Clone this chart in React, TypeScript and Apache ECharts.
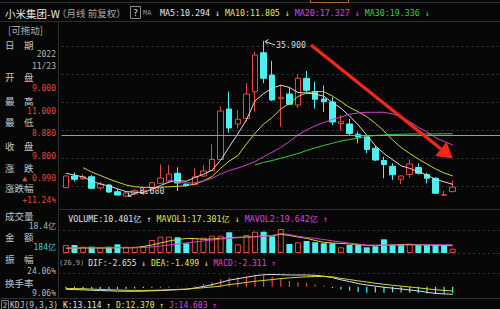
import { useEffect, useRef } from "react";
import * as echarts from "echarts";

// ---------- data (monthly, 前复权) ----------
const months = [
  "2019-02","2019-03","2019-04","2019-05","2019-06","2019-07","2019-08","2019-09","2019-10","2019-11","2019-12",
  "2020-01","2020-02","2020-03","2020-04","2020-05","2020-06","2020-07","2020-08","2020-09","2020-10","2020-11","2020-12",
  "2021-01","2021-02","2021-03","2021-04","2021-05","2021-06","2021-07","2021-08","2021-09","2021-10","2021-11","2021-12",
  "2022-01","2022-02","2022-03","2022-04","2022-05","2022-06","2022-07","2022-08","2022-09","2022-10","2022-11",
];
const opens = [9.70,11.79,11.30,11.66,9.64,10.18,8.98,8.21,8.57,8.66,9.59,10.48,10.89,12.27,10.30,10.27,11.79,12.77,14.73,23.75,21.07,22.05,26.84,33.80,29.82,25.59,26.43,24.46,29.23,26.84,25.54,25.00,21.16,21.07,19.23,18.75,16.73,14.55,13.52,11.20,12.05,13.30,12.05,11.38,8.34,9.00];
const closes = [11.79,11.20,11.66,9.59,10.36,8.93,8.39,8.75,9.16,9.20,10.59,11.43,12.14,10.54,10.13,11.66,12.68,14.73,23.39,20.36,21.91,26.43,33.39,29.23,25.36,25.84,24.59,29.23,27.09,25.48,25.05,21.43,21.48,19.38,18.75,16.52,14.64,13.84,12.02,11.79,13.93,12.27,11.38,8.70,8.43,9.80];
const lows = [9.62,10.77,11.07,9.46,9.29,8.75,8.30,8.08,8.39,8.39,9.46,10.36,10.71,9.11,9.82,10.09,11.61,12.68,14.64,19.52,20.30,21.48,23.27,28.34,25.18,20.59,24.46,23.93,26.55,23.80,23.21,20.89,19.88,19.11,17.63,15.89,14.46,11.38,11.07,10.36,11.43,12.05,10.48,8.57,8.28,8.88];
const highs = [11.90,12.45,12.09,11.96,10.80,10.36,9.46,9.11,9.46,9.29,10.71,13.84,13.75,13.34,10.54,13.16,13.75,17.45,24.20,26.88,23.57,28.39,33.98,35.90,32.32,28.04,27.68,30.00,30.54,28.63,27.95,25.89,22.68,21.96,19.70,19.11,17.14,15.23,14.05,11.88,14.73,14.05,12.38,11.52,9.16,11.00];

const ma5 = [12.27,11.96,11.61,10.89,10.36,10.0,9.5,9.0,8.9,8.85,9.4,10.1,10.7,11.0,10.85,11.5,12.1,12.8,14.6,17.0,19.3,21.8,25.2,26.5,27.45,28.0,27.6,26.7,26.6,26.4,26.05,24.9,23.9,22.5,20.9,19.1,17.2,15.8,14.7,13.6,13.15,12.55,11.95,11.2,10.75,10.294];
const ma10 = [null,null,13.27,12.5,11.88,11.25,10.71,10.18,9.88,9.75,9.75,9.8,9.85,9.95,10.05,10.36,10.89,11.70,13.16,14.46,15.41,17.5,19.41,21.07,22.23,23.75,24.73,25.98,26.61,26.88,26.84,26.07,25.09,24.02,23.27,22.38,21.2,19.82,18.21,16.88,15.80,14.82,13.93,13.04,12.32,11.805];
const ma20 = [null,null,null,null,null,null,null,null,null,null,null,null,11.07,10.71,10.54,10.54,10.89,11.38,12.14,12.77,13.21,13.75,14.34,15.23,16.02,16.88,17.95,19.11,20.0,20.75,21.34,21.88,22.32,22.82,23.04,23.16,23.16,23.16,22.86,22.38,21.48,20.48,19.64,18.66,17.95,17.327];
const ma30 = [null,null,null,null,null,null,null,null,null,null,null,null,null,null,null,null,null,null,null,null,null,null,13.75,14.20,14.55,14.95,15.36,15.80,16.34,16.79,17.23,17.63,18.04,18.30,18.57,18.84,19.02,19.11,19.20,19.25,19.28,19.30,19.28,19.30,19.32,19.336];

// 成交量 (亿股)
const volumes = [19.0,19.0,15.0,15.0,13.6,15.0,20.7,15.0,15.0,16.7,31.0,38.8,38.8,37.4,23.1,35.0,36.4,41.2,41.2,49.3,20.7,42.9,50.7,50.7,39.8,57.1,21.4,25.5,28.6,25.5,23.1,23.1,13.6,19.0,19.0,13.6,16.0,32.6,20.0,19.5,21.8,19.2,19.4,19.8,17.7,10.401];
const mavol1 = [11.2,11.4,11.9,11.9,11.9,11.9,12.4,12.4,12.6,15.5,19.0,23.8,28.6,32.1,34.5,34.5,32.6,33.3,35.0,36.2,37.4,38.1,38.8,40.5,41.2,44.5,41.7,38.1,35.0,29.8,25.5,23.8,22.6,21.4,20.2,17.9,17.4,18.6,19.0,20.2,20.7,19.5,19.0,18.3,17.9,17.301];
const mavol2 = [12.0,12.2,12.4,12.5,12.6,12.6,12.6,12.6,12.6,13.1,14.3,16.7,19.0,21.4,23.8,26.2,28.6,31.0,33.3,35.0,36.2,37.4,38.6,39.8,42.0,46.4,44.0,39.8,36.9,35.0,32.1,29.0,26.2,23.3,21.0,19.0,19.0,19.0,19.0,18.8,19.0,19.2,19.3,19.4,19.5,19.642];

// MACD(12,26,9)
const dif = [-0.9,-1.0,-1.1,-1.25,-1.35,-1.45,-1.55,-1.6,-1.6,-1.55,-1.45,-1.35,-1.2,-1.05,-0.9,-0.45,0.1,0.7,1.5,2.3,2.8,3.3,3.85,4.2,4.3,4.2,4.1,4.1,4.1,4.0,3.7,3.2,2.4,1.8,1.1,0.6,0.2,-0.2,-0.5,-0.8,-1.15,-1.5,-1.95,-2.35,-2.55,-2.655];
const dea = [-0.6,-0.65,-0.7,-0.85,-0.95,-1.05,-1.15,-1.25,-1.3,-1.3,-1.25,-1.2,-1.05,-0.95,-0.85,-0.6,-0.35,-0.1,0.2,0.75,1.1,1.5,1.9,2.2,2.5,2.85,3.1,3.3,3.45,3.6,3.55,3.45,2.9,2.5,2.05,1.65,1.2,0.85,0.5,0.2,-0.1,-0.4,-0.75,-1.05,-1.3,-1.499];
const macd = [-0.6,-0.7,-0.8,-0.8,-0.8,-0.8,-0.8,-0.7,-0.6,-0.5,-0.4,-0.3,-0.3,-0.2,-0.1,0.3,0.9,1.6,2.6,3.1,3.4,3.6,3.9,4.0,3.6,2.7,2.0,1.6,1.3,0.8,0.3,-0.5,-1.0,-1.4,-1.9,-2.1,-2.0,-2.1,-2.0,-2.0,-2.1,-2.2,-2.4,-2.6,-2.5,-2.311];

const guideLevel = 19.1;
const emptySlots = ["e1", "e2", "e3", "e4", "e5"];

// ---------- styles ----------
const BG = "#070707";
const RED = "#e8483e";
const CYAN = "#4cf0f0";
const WHITE = "#dcdcdc";
const YELLOW = "#d4d42c";
const MAGENTA = "#d040d0";
const GREEN = "#3cc83c";
const GRAYTXT = "#b4b4b4";
const MONO = "'DejaVu Sans Mono', 'Noto Sans CJK SC', monospace";
const CJK = "'Noto Sans CJK SC', sans-serif";

const gridPos = { left: 61.6, right: -2.75 };

function line(x1: number, y1: number, x2: number, y2: number, stroke: string, dash?: number[], z = 1) {
  return { type: "line", silent: true, z, shape: { x1, y1, x2, y2 }, style: { stroke, lineWidth: 1, lineDash: dash } };
}
function txt(x: number, y: number, text: string, fill: string, size: number, family: string, align = "left", z = 12) {
  return { type: "text", silent: true, z, x, y, style: { text, fill, fontSize: size, fontFamily: family, align, verticalAlign: "middle" } };
}
function rich(x: number, y: number, text: string, colors: Record<string, string>, size: number, z = 5) {
  const r: Record<string, any> = {};
  Object.keys(colors).forEach((k) => { r[k] = { fill: colors[k], fontSize: size, fontFamily: MONO }; });
  return { type: "text", silent: true, z, x, y, style: { text, rich: r, fill: GRAYTXT, fontSize: size, fontFamily: MONO, verticalAlign: "middle" } };
}

export default function App() {
  const ref = useRef<HTMLDivElement | null>(null);

  useEffect(() => {
    document.body.style.margin = "0";
    document.body.style.background = BG;
    const chart = echarts.init(ref.current as HTMLDivElement, null, { renderer: "svg" });
    const cats = [...months, ...emptySlots];

    const candleData = months.map((_, i) => [opens[i], closes[i], lows[i], highs[i]]);
    const volData = volumes.map((v, i) => {
      const up = i === 0 ? closes[i] >= opens[i] : closes[i] >= closes[i - 1];
      return { value: v, itemStyle: up ? { color: BG, borderColor: RED, borderWidth: 1 } : { color: CYAN } };
    });
    const macdData = macd.map((v) => ({ value: v, itemStyle: { color: v >= 0 ? RED : CYAN } }));

    const maLine = (data: (number | null)[], color: string, xi: number) => ({
      type: "line", xAxisIndex: xi, yAxisIndex: xi, data, symbol: "none", silent: true,
      lineStyle: { color, width: 1 }, z: 3,
    });

    chart.setOption({
      animation: false,
      backgroundColor: BG,
      grid: [
        { ...gridPos, top: 18, height: 196 },
        { ...gridPos, top: 225, height: 28 },
        { ...gridPos, top: 266, height: 32 },
      ],
      xAxis: [0, 1, 2].map((g) => ({ type: "category", gridIndex: g, data: cats, boundaryGap: true, show: false })),
      yAxis: [
        {
          gridIndex: 0, min: 5, max: 40, interval: 5,
          axisLine: { show: false }, axisTick: { show: false }, axisLabel: { show: false },
          splitLine: { show: true, showMinLine: false, showMaxLine: false, lineStyle: { color: "#3a3a3a", type: [2, 3], width: 1 } },
        },
        { gridIndex: 1, min: 0, max: 66.67, show: false, splitLine: { show: false } },
        { gridIndex: 2, min: -3.965, max: 7.263, show: false, splitLine: { show: false } },
      ],
      series: [
        {
          type: "candlestick", xAxisIndex: 0, yAxisIndex: 0, data: candleData, barWidth: 6, silent: true,
          itemStyle: { color: BG, color0: CYAN, borderColor: RED, borderColor0: CYAN, borderWidth: 1 },
          markLine: {
            silent: true, symbol: "none", label: { show: false },
            lineStyle: { color: "#9c9c9c", width: 1, type: "solid" },
            data: [{ yAxis: guideLevel }],
          },
        },
        maLine(ma5, WHITE, 0),
        maLine(ma10, YELLOW, 0),
        maLine(ma20, MAGENTA, 0),
        maLine(ma30, GREEN, 0),
        { type: "bar", xAxisIndex: 1, yAxisIndex: 1, data: volData, barWidth: 6, silent: true },
        maLine(mavol1, YELLOW, 1),
        maLine(mavol2, MAGENTA, 1),
        { type: "bar", xAxisIndex: 2, yAxisIndex: 2, data: macdData, barWidth: 1.2, silent: true },
        maLine(dif, WHITE, 2),
        maLine(dea, YELLOW, 2),
      ],
    });

    // high / low markers from the scales
    const hiIdx = highs.indexOf(Math.max(...highs));
    const loIdx = lows.indexOf(Math.min(...lows));
    const [hx, hy] = chart.convertToPixel({ gridIndex: 0 } as any, [hiIdx, highs[hiIdx]]) as number[];
    const [lx, ly] = chart.convertToPixel({ gridIndex: 0 } as any, [loIdx, lows[loIdx]]) as number[];

    const markers = [
      line(hx + 11.5, hy + 4, hx + 1.5, hy + 0.5, "#d8d8d8", undefined, 20),
      { type: "polyline", silent: true, z: 20, shape: { points: [[hx + 5, hy - 1.5], [hx + 1.5, hy + 0.5], [hx + 4, hy + 3.5]] }, style: { stroke: "#d8d8d8", fill: null, lineWidth: 1 } },
      txt(hx + 12.5, hy + 4.5, highs[hiIdx].toFixed(3), "#d8d8d8", 8.3, MONO, "left", 20),
      line(lx + 11.5, ly - 4.5, lx + 2, ly - 0.5, "#d8d8d8", undefined, 20),
      { type: "polyline", silent: true, z: 20, shape: { points: [[lx + 3, ly - 4], [lx + 2, ly - 0.5], [lx + 5.5, ly - 0.5]] }, style: { stroke: "#d8d8d8", fill: null, lineWidth: 1 } },
      txt(lx + 13.5, ly - 6, lows[loIdx].toFixed(3), "#d8d8d8", 8.3, MONO, "left", 20),
    ];

    // drawn annotation arrow
    const shaft: any = line(311, 45, 441, 149, "#f02818", undefined, 21);
    shaft.style.lineWidth = 3.4;
    const arrow = [
      shaft,
      { type: "polygon", silent: true, z: 21, shape: { points: [[452.7, 158.6], [435.2, 156.1], [446.6, 141.8]] }, style: { fill: "#f02818" } },
    ];

    const frame = [
      line(0, 2.5, 500, 2.5, "#2e2e2e"),
      { type: "rect", silent: true, z: 2, shape: { x: 310.5, y: -1, width: 38, height: 3.5 }, style: { fill: null, stroke: "#b06a30", lineWidth: 1 } },
      line(0, 21.5, 500, 21.5, "#2e2e2e"),
      line(58, 209.5, 500, 209.5, "#2e2e2e"),
      line(58, 230.5, 500, 230.5, "#333333", [2, 3]),
      line(58, 253.5, 500, 253.5, "#333333", [2, 3]),
      line(58, 273.5, 500, 273.5, "#333333", [2, 3]),
      line(0, 298.5, 500, 298.5, "#2e2e2e"),
    ];

    const titleRow = [
      txt(5, 13, "小米集团-W", "#e6e6e6", 10.5, CJK),
      txt(57, 13, "（月线 前复权）", "#a8a8a8", 9.5, CJK),
      { type: "rect", silent: true, z: 5, shape: { x: 130.5, y: 6.5, width: 10, height: 12 }, style: { fill: null, stroke: "#8a8a8a", lineWidth: 1 } },
      txt(135.5, 13, "?", "#d8d8d8", 9, MONO, "center"),
      txt(143, 13, "MA", "#909090", 7, MONO),
      rich(160, 13, "{w|MA5:10.294 ↓} {y|MA10:11.805 ↓} {m|MA20:17.327 ↓} {g|MA30:19.336 ↓}",
        { w: "#e4e4e4", y: "#e6e640", m: "#e040e0", g: "#40d040" }, 8.3),
    ];

    const paneRows = [
      rich(68.3, 219, "{w|VOLUME:10.401亿 ↑} {y|MAVOL1:17.301亿 ↓} {m|MAVOL2:19.642亿 ↑}",
        { w: "#e0e0e0", y: "#e6e640", m: "#e040e0" }, 8.3),
      txt(59, 263, "(26,9)", "#a0a0a0", 7, MONO, "left", 5),
      rich(88.3, 263, "{w|DIF:-2.655 ↓} {y|DEA:-1.499 ↓} {m|MACD:-2.311 ↑}",
        { w: "#e0e0e0", y: "#e6e640", m: "#e040e0" }, 8),
      { type: "rect", silent: true, z: 5, shape: { x: 1.5, y: 300.5, width: 7, height: 9 }, style: { fill: null, stroke: "#808080", lineWidth: 1 } },
      txt(5, 305, "2", "#c8c8c8", 7.5, MONO, "center", 6),
      rich(10, 305, "{g|KDJ(9,3,3)} {w|K:13.114 ↑} {y|D:12.370 ↑} {m|J:14.603 ↑}",
        { g: "#c0c0c0", w: "#e0e0e0", y: "#e6e640", m: "#e040e0" }, 8),
    ];

    const LBL = "#c4c4c4";
    const LS = 9.5;
    const panel = [
      { type: "rect", silent: true, z: 10, shape: { x: 0, y: 22, width: 58, height: 276 }, style: { fill: BG } },
      line(58.5, 22, 58.5, 298, "#2e2e2e", undefined, 11),
      txt(8, 30, "[可拖动]", "#b0b0b0", LS, CJK),
      txt(5, 44.5, "日　期", LBL, LS, CJK),
      txt(56, 54, "2022", GRAYTXT, 8, MONO, "right"),
      txt(56, 66, "11/23", GRAYTXT, 8, MONO, "right"),
      txt(5, 77, "开　盘", LBL, LS, CJK),
      txt(56, 88, "9.000", RED, 8, MONO, "right"),
      txt(5, 100.5, "最　高", LBL, LS, CJK),
      txt(56, 111, "11.000", RED, 8, MONO, "right"),
      txt(5, 122, "最　低", LBL, LS, CJK),
      txt(56, 133, "8.880", RED, 8, MONO, "right"),
      txt(5, 146, "收　盘", LBL, LS, CJK),
      txt(56, 156.5, "9.800", RED, 8, MONO, "right"),
      txt(5, 168, "涨　跌", LBL, LS, CJK),
      txt(56, 178.5, "▲ 0.990", RED, 8, MONO, "right"),
      txt(5, 188, "涨跌幅", LBL, LS, CJK),
      txt(56, 200, "+11.24%", RED, 8, MONO, "right"),
      txt(5, 215.5, "成交量", LBL, LS, CJK),
      txt(56, 226, "18.4亿", GRAYTXT, 8, MONO, "right"),
      txt(5, 236.7, "金　额", LBL, LS, CJK),
      txt(56, 247.7, "184亿", "#40d0d0", 8, MONO, "right"),
      txt(5, 259, "振　幅", LBL, LS, CJK),
      txt(56, 271.5, "24.06%", GRAYTXT, 8, MONO, "right"),
      txt(5, 282.7, "换手率", LBL, LS, CJK),
      txt(56, 293.3, "9.06%", GRAYTXT, 8, MONO, "right"),
    ];

    chart.setOption({ graphic: [...frame, ...titleRow, ...paneRows, ...panel, ...markers, ...arrow] });

    return () => chart.dispose();
  }, []);

  return <div ref={ref} style={{ width: 500, height: 309, background: BG }} />;
}
